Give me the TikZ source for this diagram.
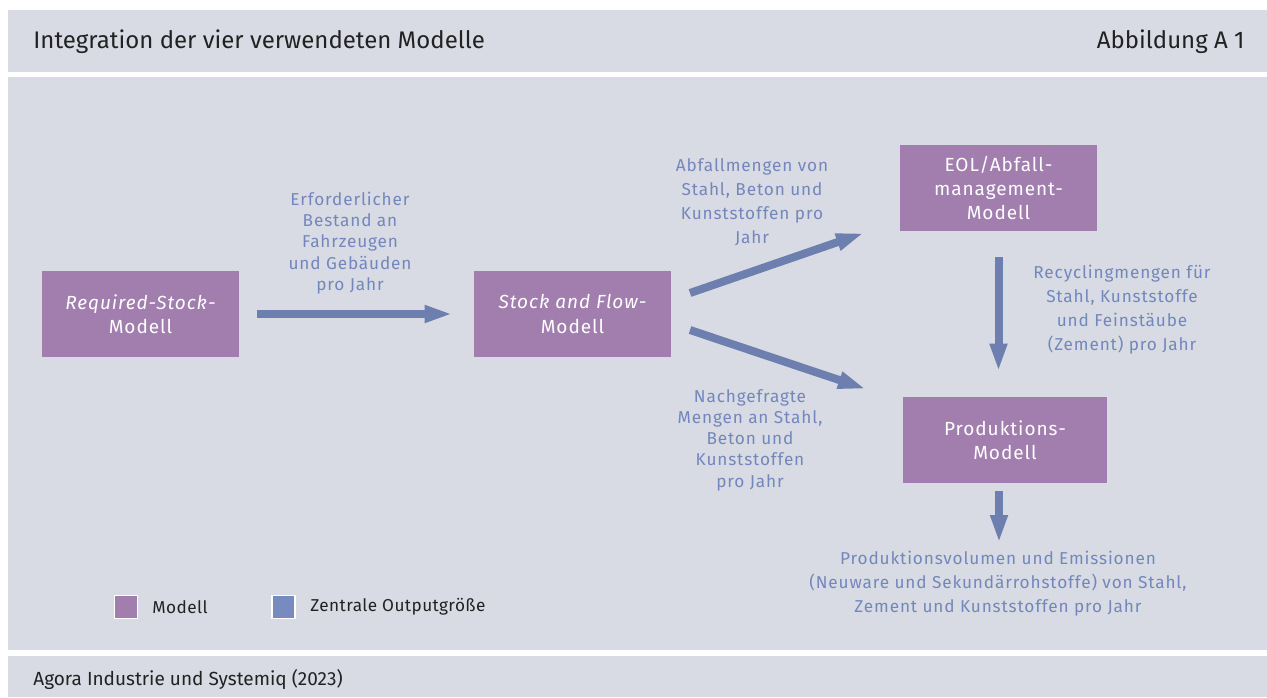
\documentclass[tikz,border=0pt]{standalone}
\usepackage{fontspec}
\setmainfont{Fira Sans}
\newfontfamily\spaced[LetterSpace=5]{Fira Sans}
\newfontfamily\lightspaced[LetterSpace=2.5]{Fira Sans}
\usetikzlibrary{arrows.meta}

\definecolor{panelgray}{HTML}{D8DBE3}
\definecolor{modelpurple}{HTML}{A17EAE}
\definecolor{flowblue}{HTML}{6D7FAE}
\definecolor{labelblue}{HTML}{7387BC}
\definecolor{legendblue}{HTML}{788BC0}
\definecolor{darktext}{HTML}{222222}

\tikzset{
  model/.style={fill=modelpurple, text=white, align=center, inner sep=0pt,
    minimum width=98.5pt, minimum height=43pt, font=\spaced\fontsize{9.5}{12.2}\selectfont},
  flowlabel/.style={text=labelblue, align=center, inner sep=0pt,
    font=\spaced\fontsize{8.6}{10.6}\selectfont},
  widelabel/.style={flowlabel, font=\spaced\fontsize{8.6}{12}\selectfont},
  flow/.style={draw=flowblue, line width=4pt, -{Triangle[length=14pt,width=8pt]}},
  legendbox/.style={draw=white, line width=0.6pt, minimum size=11.5pt, inner sep=0pt},
  legendtext/.style={text=darktext, anchor=west, inner sep=0pt, font=\lightspaced\fontsize{8.6}{10}\selectfont}
}

\begin{document}
\begin{tikzpicture}[x=0.5pt, y=-0.5pt]
\useasboundingbox (0,0) rectangle (1267,697);
% panels
\fill[panelgray] (8,10) rectangle (1267,72);
\fill[panelgray] (8,77) rectangle (1267,650);
\fill[panelgray] (8,656) rectangle (1267,697);
\node[text=darktext, anchor=west, inner sep=0pt, font=\fontsize{12}{14}\selectfont] (title) at (33,42) {Integration der vier verwendeten Modelle};
\node[text=darktext, anchor=east, inner sep=0pt, font=\fontsize{12}{14}\selectfont] (figno) at (1245,42) {Abbildung A 1};
\node[text=darktext, anchor=west, inner sep=0pt, font=\fontsize{9.5}{11}\selectfont] (source) at (33,679) {Agora Industrie und Systemiq (2023)};

% models
\node[model] (req) at (140.5,314) {\itshape Required-Stock-\\Modell};
\node[model] (saf) at (572.5,314) {\itshape Stock and Flow-\\Modell};
\node[model] (eol) at (998.5,188) {EOL/Abfall-\\management-\\Modell};
\node[model, minimum width=102pt] (prod) at (1005,440) {Produktions-\\Modell};

% outputs
\node[flowlabel] (stock) at (350,243) {Erforderlicher\\Bestand an\\Fahrzeugen\\und Gebäuden\\pro Jahr};
\node[widelabel] (waste) at (752,202) {Abfallmengen von\\Stahl, Beton und\\Kunststoffen pro\\Jahr};
\node[widelabel] (recyc) at (1122,310) {Recyclingmengen für\\Stahl, Kunststoffe\\und Feinstäube\\(Zement) pro Jahr};
\node[flowlabel] (demand) at (750,440) {Nachgefragte\\Mengen an Stahl,\\Beton und\\Kunststoffen\\pro Jahr};
\node[widelabel] (out) at (998,584) {Produktionsvolumen und Emissionen\\(Neuware und Sekundärrohstoffe) von Stahl,\\Zement und Kunststoffen pro Jahr};

% flows
\coordinate (safup) at (690,293);
\coordinate (eolin) at (864,233);
\coordinate (safdown) at (690,330);
\coordinate (prodin) at (866,389);
\coordinate (prodout) at (999,491);
\coordinate (outin) at (999,543);
\draw[flow, shorten <=9pt, shorten >=10.5pt] (req.east) -- (saf.west);
\draw[flow] (safup) -- (eolin);
\draw[flow] (safdown) -- (prodin);
\draw[flow, shorten <=13pt, shorten >=12.5pt] (eol.south) -- (eol.south |- prod.north);
\draw[flow] (prodout) -- (outin);

% legend
\node[legendbox, fill=modelpurple] (keymodel) at (126,607) {};
\node[legendtext] (keymodeltext) at (152,607) {Modell};
\node[legendbox, fill=legendblue] (keyflow) at (283.5,607) {};
\node[legendtext] (keyflowtext) at (310,607) {Zentrale Outputgröße};
\end{tikzpicture}
\end{document}
